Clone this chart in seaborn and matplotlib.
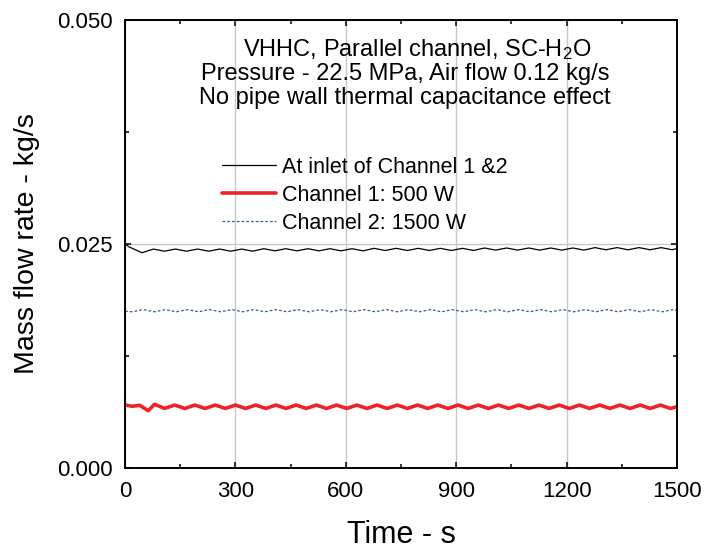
import matplotlib
matplotlib.use("Agg")
import matplotlib.pyplot as plt
import seaborn as sns
import pandas as pd
from matplotlib.ticker import MultipleLocator

# ---------------- data ----------------
inlet_t = [0, 10, 46,
           77, 107, 137, 167, 197, 227, 257, 287, 317, 347,
           377, 407, 437, 467, 497, 527, 557, 587, 617, 647,
           677, 707, 737, 767, 797, 827, 857, 887, 917, 947,
           977, 1007, 1037, 1067, 1097, 1127, 1157, 1187, 1217, 1247,
           1277, 1307, 1337, 1367, 1397, 1427, 1457, 1487,
           1500]
inlet_flow = [0.02500, 0.02470, 0.02403,
              0.02444, 0.02420, 0.02444, 0.02420, 0.02444, 0.02420, 0.02444, 0.02420, 0.02444, 0.02420,
              0.02448, 0.02424, 0.02448, 0.02424, 0.02448, 0.02424, 0.02448, 0.02424, 0.02448, 0.02424,
              0.02452, 0.02428, 0.02452, 0.02428, 0.02452, 0.02428, 0.02452, 0.02428, 0.02452, 0.02428,
              0.02456, 0.02432, 0.02456, 0.02432, 0.02456, 0.02432, 0.02456, 0.02432, 0.02456, 0.02432,
              0.02460, 0.02436, 0.02460, 0.02436, 0.02460, 0.02436, 0.02460, 0.02436,
              0.02450]

ch1_t = [0, 20, 40, 63,
         80, 107.5, 135, 162.5, 190, 217.5, 245, 272.5, 300, 327.5,
         355, 382.5, 410, 437.5, 465, 492.5, 520, 547.5, 575, 602.5,
         630, 657.5, 685, 712.5, 740, 767.5, 795, 822.5, 850, 877.5,
         905, 932.5, 960, 987.5, 1015, 1042.5, 1070, 1097.5, 1125, 1152.5,
         1180, 1207.5, 1235, 1262.5, 1290, 1317.5, 1345, 1372.5, 1400, 1427.5,
         1455, 1482.5,
         1500]
ch1_flow = [0.00703, 0.00690, 0.00700, 0.00640,
            0.00712, 0.00665, 0.00703, 0.00665, 0.00703, 0.00665, 0.00703, 0.00665, 0.00703, 0.00665,
            0.00703, 0.00665, 0.00703, 0.00665, 0.00703, 0.00665, 0.00703, 0.00665, 0.00703, 0.00665,
            0.00703, 0.00665, 0.00703, 0.00665, 0.00703, 0.00665, 0.00703, 0.00665, 0.00703, 0.00665,
            0.00703, 0.00665, 0.00703, 0.00665, 0.00703, 0.00665, 0.00703, 0.00665, 0.00703, 0.00665,
            0.00703, 0.00665, 0.00703, 0.00665, 0.00703, 0.00665, 0.00703, 0.00665, 0.00703, 0.00665,
            0.00703, 0.00665,
            0.00684]

ch2_t = [0,
         20, 50, 80, 110, 140, 170, 200, 230, 260, 290,
         320, 350, 380, 410, 440, 470, 500, 530, 560, 590,
         620, 650, 680, 710, 740, 770, 800, 830, 860, 890,
         920, 950, 980, 1010, 1040, 1070, 1100, 1130, 1160, 1190,
         1220, 1250, 1280, 1310, 1340, 1370, 1400, 1430, 1460, 1490,
         1500]
ch2_flow = [0.01750,
            0.01744, 0.01768, 0.01744, 0.01768, 0.01744, 0.01768, 0.01744, 0.01768, 0.01744, 0.01768,
            0.01744, 0.01768, 0.01744, 0.01768, 0.01744, 0.01768, 0.01744, 0.01768, 0.01744, 0.01768,
            0.01744, 0.01768, 0.01744, 0.01768, 0.01744, 0.01768, 0.01744, 0.01768, 0.01744, 0.01768,
            0.01744, 0.01768, 0.01744, 0.01768, 0.01744, 0.01768, 0.01744, 0.01768, 0.01744, 0.01768,
            0.01744, 0.01768, 0.01744, 0.01768, 0.01744, 0.01768, 0.01744, 0.01768, 0.01744, 0.01768,
            0.01756]

labels = ["At inlet of Channel 1 &2", "Channel 1: 500 W", "Channel 2: 1500 W"]
x_ticks = [0, 300, 600, 900, 1200, 1500]
y_ticks = [0.000, 0.025, 0.050]
notes = ["VHHC, Parallel channel, SC-H$_2$O",
         "Pressure - 22.5 MPa, Air flow 0.12 kg/s",
         "No pipe wall thermal capacitance effect"]

# ---------------- style ----------------
sns.set_theme(style="ticks")
plt.rcParams["font.family"] = ["Liberation Sans", "DejaVu Sans"]
plt.rcParams["mathtext.fontset"] = "custom"
plt.rcParams["mathtext.rm"] = "Liberation Sans"
plt.rcParams["mathtext.it"] = "Liberation Sans"
plt.rcParams["mathtext.default"] = "regular"
plt.rcParams["text.color"] = "black"
plt.rcParams["axes.labelcolor"] = "black"

fig = plt.figure(figsize=(7.04, 5.5), dpi=100)
ax = fig.add_axes([0.1776, 0.149, 0.7840, 0.8146])

d_in = pd.DataFrame({"t": inlet_t, "v": inlet_flow})
d_c1 = pd.DataFrame({"t": ch1_t, "v": ch1_flow})
d_c2 = pd.DataFrame({"t": ch2_t, "v": ch2_flow})

sns.lineplot(data=d_in, x="t", y="v", ax=ax, color="black", linewidth=0.9,
             label=labels[0])
sns.lineplot(data=d_c1, x="t", y="v", ax=ax, color="#ee2229", linewidth=2.6,
             label=labels[1])
sns.lineplot(data=d_c2, x="t", y="v", ax=ax, color="#3a58b0", linewidth=0.9,
             linestyle=(0, (2.2, 1.6)), label=labels[2])

ax.set_xlim(0, 1500)
ax.set_ylim(0, 0.050)
ax.set_xticks(x_ticks)
ax.set_yticks(y_ticks)
ax.set_yticklabels([f"{v:.3f}" for v in y_ticks])
ax.xaxis.set_minor_locator(MultipleLocator(150))
ax.yaxis.set_minor_locator(MultipleLocator(0.0125))
ax.tick_params(which="both", direction="in", top=True, right=True,
               labelsize=16, width=1.1, color="black", labelcolor="black")
ax.tick_params(which="major", length=4.5)
ax.tick_params(which="minor", length=3)
ax.tick_params(axis="x", pad=9.5)
ax.tick_params(axis="y", pad=8.5)
ax.grid(True, which="major", color="#c8c8c8", linewidth=1.0)
for s in ax.spines.values():
    s.set_color("black")
    s.set_linewidth(1.4)

ax.set_xlabel("Time - s", fontsize=22, labelpad=13)
ax.set_ylabel("Mass flow rate - kg/s", fontsize=20.5, labelpad=13)

for txt, xx, yy in zip(notes, [0.529, 0.507, 0.507], [0.935, 0.879, 0.827]):
    ax.text(xx, yy, txt, transform=ax.transAxes, ha="center", va="center",
            fontsize=17, color="black")

leg = ax.legend(loc="center left", bbox_to_anchor=(0.176, 0.609), frameon=False,
                fontsize=15.5, borderpad=0, borderaxespad=0, handlelength=2.5,
                handletextpad=0.3, labelspacing=0.33)
for t in leg.get_texts():
    t.set_color("black")

fig.savefig("out.png", dpi=100)
